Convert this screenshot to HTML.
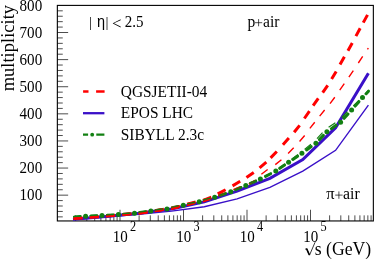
<!DOCTYPE html>
<html><head><meta charset="utf-8"><title>multiplicity</title>
<style>html,body{margin:0;padding:0;background:#fff;}body{width:374px;height:261px;overflow:hidden;}svg{display:block;}text{font-family:"Liberation Serif",serif;fill:#000;}.sy{font-family:"Liberation Sans",sans-serif;}</style></head><body>
<svg width="374" height="261" viewBox="0 0 374 261">
<rect x="0" y="0" width="374" height="261" fill="#fff"/>
<rect x="57.35" y="5.40" width="316.00" height="215.55" fill="none" stroke="#000" stroke-width="1.1"/>
<path d="M57.35 216.86 h5.4 M57.35 211.44 h5.4 M57.35 206.01 h5.4 M57.35 200.59 h5.4 M57.35 195.17 h10.8 M57.35 189.75 h5.4 M57.35 184.33 h5.4 M57.35 178.90 h5.4 M57.35 173.48 h5.4 M57.35 168.06 h10.8 M57.35 162.64 h5.4 M57.35 157.22 h5.4 M57.35 151.79 h5.4 M57.35 146.37 h5.4 M57.35 140.95 h10.8 M57.35 135.53 h5.4 M57.35 130.11 h5.4 M57.35 124.68 h5.4 M57.35 119.26 h5.4 M57.35 113.84 h10.8 M57.35 108.42 h5.4 M57.35 103.00 h5.4 M57.35 97.57 h5.4 M57.35 92.15 h5.4 M57.35 86.73 h10.8 M57.35 81.31 h5.4 M57.35 75.89 h5.4 M57.35 70.46 h5.4 M57.35 65.04 h5.4 M57.35 59.62 h10.8 M57.35 54.20 h5.4 M57.35 48.78 h5.4 M57.35 43.35 h5.4 M57.35 37.93 h5.4 M57.35 32.51 h10.8 M57.35 27.09 h5.4 M57.35 21.67 h5.4 M57.35 16.24 h5.4 M57.35 10.82 h5.4 M75.62 220.95 v-5.6 M86.80 220.95 v-5.6 M94.73 220.95 v-5.6 M100.88 220.95 v-5.6 M105.91 220.95 v-5.6 M110.16 220.95 v-5.6 M113.85 220.95 v-5.6 M117.09 220.95 v-5.6 M120.00 220.95 v-11.2 M139.12 220.95 v-5.6 M150.30 220.95 v-5.6 M158.23 220.95 v-5.6 M164.38 220.95 v-5.6 M169.41 220.95 v-5.6 M173.66 220.95 v-5.6 M177.35 220.95 v-5.6 M180.59 220.95 v-5.6 M183.50 220.95 v-11.2 M202.62 220.95 v-5.6 M213.80 220.95 v-5.6 M221.73 220.95 v-5.6 M227.88 220.95 v-5.6 M232.91 220.95 v-5.6 M237.16 220.95 v-5.6 M240.85 220.95 v-5.6 M244.09 220.95 v-5.6 M247.00 220.95 v-11.2 M266.12 220.95 v-5.6 M277.30 220.95 v-5.6 M285.23 220.95 v-5.6 M291.38 220.95 v-5.6 M296.41 220.95 v-5.6 M300.66 220.95 v-5.6 M304.35 220.95 v-5.6 M307.59 220.95 v-5.6 M310.50 220.95 v-11.2 M329.62 220.95 v-5.6 M340.80 220.95 v-5.6 M348.73 220.95 v-5.6 M354.88 220.95 v-5.6 M359.91 220.95 v-5.6 M364.16 220.95 v-5.6 M367.85 220.95 v-5.6 M371.09 220.95 v-5.6" stroke="#000" stroke-width="0.7" fill="none"/>
<path d="M73.0 219.2 L105.8 216.5 L138.6 213.3 L171.5 208.9 L204.3 201.9 L237.1 191.2 L269.9 178.4 L302.8 159.5 L335.6 127.7 L368.4 73.3" fill="none" stroke="#3a10c8" stroke-width="3.0" stroke-linejoin="miter"/>
<path d="M73.0 219.5 L105.8 217.0 L138.6 214.3 L171.5 211.1 L204.3 206.7 L237.1 198.9 L269.9 187.3 L302.8 171.2 L335.6 150.3 L368.4 105.2" fill="none" stroke="#3a10c8" stroke-width="1.4" stroke-linejoin="miter"/>
<path d="M90.90 216.04 L96.70 215.76 M107.30 215.21 L113.10 214.89 M123.56 214.15 L129.34 213.65 M139.82 212.52 L145.58 211.78 M156.08 210.39 L161.82 209.61 M172.32 207.73 L177.98 206.47 M188.42 204.14 L194.08 202.86 M204.16 200.26 L209.74 198.64 M220.00 195.42 L225.50 193.58 M235.63 189.74 L240.97 187.46 M250.44 183.36 L255.76 181.04 M265.52 176.37 L270.68 173.73 M279.81 168.34 L284.59 165.06 M292.85 159.43 L297.65 156.17 M306.55 149.95 L311.25 146.55 M319.39 139.59 L323.41 135.41 M331.38 128.66 L336.12 125.34 M344.15 118.30 L348.05 114.00 M355.14 106.04 L358.96 101.66 M74.50 216.92 L80.29 216.60 M366.19 93.66 L368.50 91.20" fill="none" stroke="#128012" stroke-width="3.0" stroke-linecap="round"/>
<circle cx="85.60" cy="216.30" r="2.50" fill="#128012"/>
<circle cx="102.00" cy="215.50" r="2.50" fill="#128012"/>
<circle cx="118.40" cy="214.60" r="2.50" fill="#128012"/>
<circle cx="134.50" cy="213.20" r="2.50" fill="#128012"/>
<circle cx="150.90" cy="211.10" r="2.50" fill="#128012"/>
<circle cx="167.00" cy="208.90" r="2.50" fill="#128012"/>
<circle cx="183.30" cy="205.30" r="2.50" fill="#128012"/>
<circle cx="199.20" cy="201.70" r="2.50" fill="#128012"/>
<circle cx="214.70" cy="197.20" r="2.50" fill="#128012"/>
<circle cx="230.80" cy="191.80" r="2.50" fill="#128012"/>
<circle cx="245.80" cy="185.40" r="2.50" fill="#128012"/>
<circle cx="260.40" cy="179.00" r="2.50" fill="#128012"/>
<circle cx="275.80" cy="171.10" r="2.50" fill="#128012"/>
<circle cx="288.60" cy="162.30" r="2.50" fill="#128012"/>
<circle cx="301.90" cy="153.30" r="2.50" fill="#128012"/>
<circle cx="315.90" cy="143.20" r="2.50" fill="#128012"/>
<circle cx="326.90" cy="131.80" r="2.50" fill="#128012"/>
<circle cx="340.60" cy="122.20" r="2.50" fill="#128012"/>
<circle cx="351.60" cy="110.10" r="2.50" fill="#128012"/>
<circle cx="362.50" cy="97.60" r="2.50" fill="#128012"/>
<path d="M367.53 14.85 L363.27 22.65 M360.18 28.29 L355.92 36.11 M352.26 42.91 L347.94 50.69 M344.40 56.83 L340.00 64.57 M336.19 71.44 L331.61 79.06 M327.71 85.28 L322.69 92.62 M318.27 98.27 L313.13 105.53 M309.45 111.20 L304.35 118.50 M299.66 125.31 L294.14 132.29 M288.87 138.04 L282.93 144.66 M276.80 151.50 L270.60 157.90 M266.32 162.15 L259.58 167.95 M253.75 172.45 L246.45 177.55 M240.18 181.33 L232.52 185.87 M225.60 189.79 L217.70 193.91 M211.37 197.25 L203.03 200.35 M195.71 201.90 L187.12 204.23 M179.98 206.38 L171.28 208.28 M163.90 209.29 L155.12 210.74 M147.78 212.08 L138.96 213.20 M131.52 213.75 L122.66 214.58 M115.24 215.28 L106.38 216.05 M98.95 216.64 L90.08 217.33 M82.65 217.90 L73.77 218.52" fill="none" stroke="#ff0000" stroke-width="3.0"/>
<path d="M362.68 56.41 L358.32 62.99 M353.32 70.63 L348.88 77.17 M344.28 83.67 L339.72 90.13 M334.79 97.25 L330.01 103.55 M324.63 109.98 L319.67 116.12 M314.74 122.20 L309.86 128.40 M304.65 135.48 L299.55 141.52 M293.70 147.81 L288.10 153.39 M281.42 159.67 L275.28 164.63 M267.63 169.50 L261.37 174.30 M255.60 180.18 L248.80 184.22 M240.62 186.77 L233.29 189.71 M225.43 192.94 L218.11 195.92 M210.33 199.38 L202.82 201.84 M194.51 203.66 L186.85 205.60 M178.65 207.86 L170.90 209.40 M162.46 210.45 L154.64 211.59 M146.24 212.91 L138.40 213.81 M129.92 214.44 L122.05 215.12 M113.58 215.88 L105.71 216.52 M97.23 217.15 L89.35 217.73 M80.87 218.36 L73.00 218.88" fill="none" stroke="#ff0000" stroke-width="1.4"/>
<path d="M367.5 49.3 L368.3 48.0" fill="none" stroke="#ff0000" stroke-width="1.4"/>
<path d="M89.68 215.60 L97.87 215.20 M106.08 214.78 L114.26 214.33 M122.32 213.76 L130.49 213.05 M138.57 212.17 L146.71 211.13 M154.81 210.06 L162.94 208.95 M171.05 207.49 L179.05 205.73 M187.13 203.92 L195.13 202.11 M202.88 200.11 L210.75 197.83 M218.70 195.33 L226.47 192.72 M234.34 189.75 L241.88 186.53 M249.14 183.39 L256.65 180.10 M264.22 176.48 L271.51 172.74 M278.53 168.56 L285.23 163.83 M291.36 159.38 L297.93 154.48 M304.54 149.35 L310.92 144.21 M316.98 138.59 L322.51 132.54 M328.61 127.29 L335.37 122.64 M341.67 117.47 L347.50 111.71 M353.26 105.96 L359.05 100.15 M73.00 216.60 L81.18 216.08 M364.69 94.34 L368.40 90.40" fill="none" stroke="#128012" stroke-width="1.2" stroke-linecap="butt"/>
<g opacity="0.999">
<text transform="translate(42.20 200.47) scale(1.000 1.040)" font-size="15.10" text-anchor="end">100</text>
<text transform="translate(42.20 173.36) scale(1.000 1.040)" font-size="15.10" text-anchor="end">200</text>
<text transform="translate(42.20 146.25) scale(1.000 1.040)" font-size="15.10" text-anchor="end">300</text>
<text transform="translate(42.20 119.14) scale(1.000 1.040)" font-size="15.10" text-anchor="end">400</text>
<text transform="translate(42.20 92.03) scale(1.000 1.040)" font-size="15.10" text-anchor="end">500</text>
<text transform="translate(42.20 64.92) scale(1.000 1.040)" font-size="15.10" text-anchor="end">600</text>
<text transform="translate(42.20 37.81) scale(1.000 1.040)" font-size="15.10" text-anchor="end">700</text>
<text transform="translate(42.20 10.70) scale(1.000 1.040)" font-size="15.10" text-anchor="end">800</text>
<text transform="translate(112.70 241.50) scale(1.000 1.130)" font-size="15.00">10</text>
<text transform="translate(129.90 231.30) scale(1.000 1.100)" font-size="12.30">2</text>
<text transform="translate(176.20 241.50) scale(1.000 1.130)" font-size="15.00">10</text>
<text transform="translate(193.40 231.30) scale(1.000 1.100)" font-size="12.30">3</text>
<text transform="translate(239.70 241.50) scale(1.000 1.130)" font-size="15.00">10</text>
<text transform="translate(256.90 231.30) scale(1.000 1.100)" font-size="12.30">4</text>
<text transform="translate(303.20 241.50) scale(1.000 1.130)" font-size="15.00">10</text>
<text transform="translate(320.40 231.30) scale(1.000 1.100)" font-size="12.30">5</text>
<text transform="translate(13.90 91.30) rotate(-90)" font-size="18.50">multiplicity</text>
<text transform="translate(371.20 255.40) scale(1.000 1.030)" font-size="17.70" text-anchor="end">s (GeV)</text>
<path d="M305.1 249.3 L306.5 248.5 L309.5 255.2 L315.1 242.2" fill="none" stroke="#000" stroke-width="0.8"/>
<path d="M306.6 248.6 L309.4 255.0" fill="none" stroke="#000" stroke-width="1.6"/>
<text transform="translate(89.00 27.00) scale(1.000 1.020)" font-size="15.00">|</text>
<text transform="translate(96.90 27.00) scale(1.000 1.130)" font-size="14.50" class="sy">η</text>
<text transform="translate(105.40 27.00) scale(1.000 1.020)" font-size="15.00">|</text>
<text transform="translate(111.90 28.60)" font-size="16.80">&lt;</text>
<text transform="translate(124.80 27.00) scale(1.000 1.130)" font-size="15.00">2.5</text>
<text transform="translate(247.40 27.30) scale(1.000 1.030)" font-size="15.60">p</text>
<text transform="translate(263.00 27.30) scale(1.000 1.030)" font-size="15.60">air</text>
<path d="M255.0 22.7 H262.2 M258.6 19.1 V26.3" stroke="#000" stroke-width="0.7" fill="none"/>
<text transform="translate(326.20 198.90)" font-size="16.50">π</text>
<text transform="translate(343.10 198.90) scale(1.000 1.030)" font-size="15.80">air</text>
<path d="M335.2 195.1 H342.6 M338.9 191.4 V198.8" stroke="#000" stroke-width="0.7" fill="none"/>
<text transform="translate(120.80 97.00) scale(1.000 1.130)" font-size="15.40">QGSJETII-04</text>
<path d="M83.1 91.5 H88.5 M96.1 91.5 H104.6" stroke="#ff0000" stroke-width="2.3" fill="none"/>
<text transform="translate(120.80 118.30) scale(1.000 1.130)" font-size="15.40">EPOS LHC</text>
<path d="M83 113.2 H104.4" stroke="#3a10c8" stroke-width="2.3" fill="none"/>
<text transform="translate(120.80 139.60) scale(1.000 1.130)" font-size="15.40">SIBYLL 2.3c</text>
<path d="M83 134.7 H88.1 M96.3 134.7 H104.4" stroke="#128012" stroke-width="2.3" fill="none"/>
<circle cx="92.2" cy="134.7" r="1.9" fill="#128012"/>
</g>
</svg></body></html>
